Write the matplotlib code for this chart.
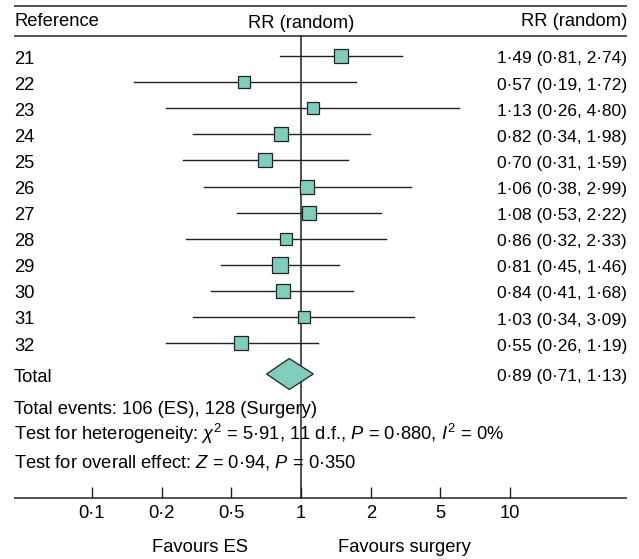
import numpy as np
import matplotlib
matplotlib.use('Agg')
import matplotlib.pyplot as plt

plt.rcParams['font.family'] = 'Liberation Sans'
plt.rcParams['mathtext.fontset'] = 'custom'
plt.rcParams['mathtext.rm'] = 'Liberation Sans'
plt.rcParams['mathtext.it'] = 'Liberation Sans:italic'

# ---------------- donnees ----------------
studies = ['21', '22', '23', '24', '25', '26', '27', '28', '29', '30', '31', '32']
rr = [1.49, 0.57, 1.13, 0.82, 0.70, 1.06, 1.08, 0.86, 0.81, 0.84, 1.03, 0.55]
ci_low = [0.81, 0.19, 0.26, 0.34, 0.31, 0.38, 0.53, 0.32, 0.45, 0.41, 0.34, 0.26]
ci_high = [2.74, 1.72, 4.80, 1.98, 1.59, 2.99, 2.22, 2.33, 1.46, 1.68, 3.09, 1.19]
weight = [8.3, 7.1, 7.1, 10.2, 8.3, 8.9, 7.7, 6.9, 10.9, 8.9, 6.9, 8.9]  # poids relatifs (%)

total_rr, total_low, total_high = 0.89, 0.71, 1.13

tick_labels = ['0·1', '0·2', '0·5', '1', '2', '5', '10']

txt_events = 'Total events: 106 (ES), 128 (Surgery)'
txt_het = r'Test for heterogeneity: $\chi^2$ = 5·91, 11 d.f., $P$ = 0·880, $I^2$ = 0%'
txt_overall = r'Test for overall effect: $Z$ = 0·94, $P$ = 0·350'

# ---------------- mise en page ----------------
W, H = 639, 559
px2pt = 72 / 100
fill = '#7fcdbb'
ink = '#222222'
fs = 13.2      # texte
fs_num = 12.5  # colonne de droite (chiffres)
dy = 3         # decalage vertical du texte des lignes

fig = plt.figure(figsize=(W / 100, H / 100), dpi=100)
ax = fig.add_axes([0, 0, 1, 1])
ax.set_xscale('log', base=2)
# 1 -> pixel 301, 69.7 px par doublement
ax.set_xlim(2 ** (-301 / 69.7), 2 ** ((W - 301) / 69.7))
ax.set_ylim(H, 0)
ax.axis('off')

left = 14 / W
right = 627 / W
trans = ax.get_yaxis_transform()

# lignes d'en-tete et axe
ax.hlines([6, 36, 498], left, right, transform=trans, color=ink, lw=1.1)
ax.text(left, 22, 'Reference', transform=trans, ha='left', va='center', fontsize=fs)
ax.text(1, 23, 'RR (random)', ha='center', va='center', fontsize=fs)
ax.text(right, 22, 'RR (random)', transform=trans, ha='right', va='center', fontsize=fs)

# ligne verticale
ax.plot([1, 1], [36, 498], color=ink, lw=1.1)

# etudes
row_y = 56 + np.arange(len(studies)) * 26.1
for i in range(len(studies)):
    y = row_y[i]
    ax.plot([ci_low[i], ci_high[i]], [y, y], color=ink, lw=1.0)
    side = 4.69 * np.sqrt(weight[i]) * px2pt
    ax.plot(rr[i], y, marker='s', ms=side, mfc=fill, mec=ink, mew=0.9)
    ax.text(left, y + dy, studies[i], transform=trans, ha='left', va='center', fontsize=fs)
    ax.text(right, y + dy, f'{rr[i]:.2f} ({ci_low[i]:.2f}, {ci_high[i]:.2f})'.replace('.', '·'),
            transform=trans, ha='right', va='center', fontsize=fs_num)

# total
ty = 374
ax.fill([total_low, total_rr, total_high, total_rr], [ty, ty - 15.5, ty, ty + 15.5],
        facecolor=fill, edgecolor=ink, lw=0.9, zorder=3)
ax.text(left, ty + dy, 'Total', transform=trans, ha='left', va='center', fontsize=fs)
ax.text(right, ty + dy, f'{total_rr:.2f} ({total_low:.2f}, {total_high:.2f})'.replace('.', '·'),
        transform=trans, ha='right', va='center', fontsize=fs_num)

ax.text(left, 409, txt_events, transform=trans, ha='left', va='center', fontsize=fs)
ax.text(left, 434, txt_het, transform=trans, ha='left', va='center', fontsize=fs)
ax.text(left, 462, txt_overall, transform=trans, ha='left', va='center', fontsize=fs)

# graduations
tick_pos = 2.0 ** np.arange(-3, 4)
ax.vlines(tick_pos, 487, 498, color=ink, lw=1.0)
for p, lab in zip(tick_pos, tick_labels):
    ax.text(p, 514, lab, ha='center', va='center', fontsize=fs)

ax.text(200 / W, 547, 'Favours ES', transform=trans, ha='center', va='center', fontsize=fs)
ax.text(404 / W, 547, 'Favours surgery', transform=trans, ha='center', va='center', fontsize=fs)

fig.savefig('out.png', dpi=100)
